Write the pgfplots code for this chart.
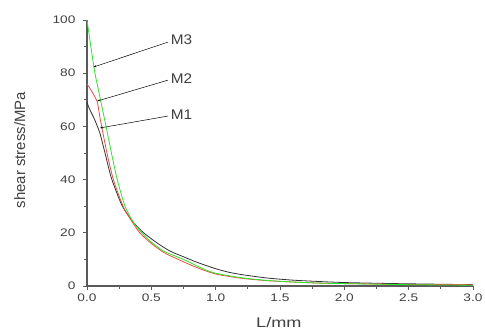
\documentclass[border=0pt]{standalone}
\usepackage{fontspec}
\setmainfont{Liberation Sans}
\newfontfamily\tickfont{Liberation Sans}[FakeStretch=1.25]
\newfontfamily\xlabfont{Liberation Sans}[FakeStretch=1.3]
\newfontfamily\mfont{Liberation Sans}[FakeStretch=1.1]
\usepackage{pgfplots}
\pgfplotsset{compat=1.18}
\usetikzlibrary{arrows.meta}
\definecolor{mgreen}{RGB}{40,230,40}
\definecolor{mred}{RGB}{245,70,70}
\definecolor{mblack}{RGB}{50,50,50}
\definecolor{axgray}{RGB}{90,90,90}
\begin{document}
\begin{tikzpicture}
\useasboundingbox (-87bp,-46bp) rectangle (398bp,286bp);
\begin{axis}[
  at={(0,0)}, anchor=south west,
  scale only axis, width=386bp, height=266bp,
  xmin=0, xmax=3, ymin=0, ymax=100,
  axis x line*=bottom, axis y line*=left,
  axis line style={axgray, line width=1.5pt},
  xtick={0,0.5,...,3}, ytick={0,20,...,100},
  minor x tick num=1, minor y tick num=1,
  tick align=outside,
  major tick length=4bp, minor tick length=3bp,
  tick style={axgray, line width=0.8pt},
  xticklabel style={/pgf/number format/.cd, fixed, fixed zerofill, precision=1},
  /pgf/number format/assume math mode=true,
  tick label style={font=\tickfont\fontsize{11}{13}\selectfont, text=black!75},
  yticklabel style={xshift=-4bp},
  xlabel={L/mm}, ylabel={shear stress/MPa},
  xlabel style={font=\xlabfont\fontsize{14}{16}\selectfont, text=black!75, at={(axis description cs:0.497,-0.139)}, anchor=center},
  ylabel style={font=\fontsize{15}{17}\selectfont, text=black!75, at={(axis description cs:-0.174,0.511)}, anchor=center, rotate=0},
  clip=false,
]
\addplot[mblack, line width=0.8pt, smooth, tension=0.4] coordinates {
(0,69) (0.02,66.5) (0.04,64.5) (0.06,62.5) (0.1,57.5) (0.14,50) (0.19,40.5) (0.27,30.5) (0.35,24.5) (0.44,20) (0.55,16) (0.65,13) (0.75,11) (0.85,9) (1.0,6.5) (1.1,5.2) (1.2,4.3) (1.4,3.0) (1.6,2.2) (1.8,1.7) (2.0,1.3) (2.4,0.9) (3.0,0.5)};
\addplot[mred, line width=0.8pt, smooth, tension=0.4] coordinates {
(0,76) (0.02,74.5) (0.078,69.5) (0.1,63.5) (0.155,50) (0.205,40) (0.28,30) (0.34,25) (0.41,20) (0.5,16) (0.6,12.5) (0.71,10) (0.85,7) (1.0,4.5) (1.2,2.9) (1.4,2.0) (1.6,1.5) (1.8,1.1) (2.0,0.9) (2.5,0.6) (3.0,0.5)};
\addplot[mgreen, line width=0.8pt, smooth, tension=0.4] coordinates {
(0,100) (0.03,90) (0.062,80) (0.105,70) (0.148,60) (0.19,50) (0.235,40) (0.295,30) (0.36,24) (0.425,20) (0.5,16.5) (0.6,13) (0.75,10) (0.9,6.5) (1.0,4.8) (1.2,3.1) (1.4,2.1) (1.6,1.5) (1.8,1.1) (2.0,0.9) (2.5,0.5) (3.0,0.3)};
\draw[black, line width=0.5pt, -{Stealth[length=3bp,width=2bp]}] (axis cs:0.63,91.7) -- (axis cs:0.05,82.3);
\draw[black, line width=0.5pt, -{Stealth[length=3bp,width=2bp]}] (axis cs:0.63,77.4) -- (axis cs:0.078,69.5);
\draw[black, line width=0.5pt, -{Stealth[length=3bp,width=2bp]}] (axis cs:0.63,63.9) -- (axis cs:0.10,59.4);
\node[anchor=west, font=\mfont\fontsize{14}{16}\selectfont, text=black!75, inner sep=0pt] at (axis cs:0.65,92.5) {M3};
\node[anchor=west, font=\mfont\fontsize{14}{16}\selectfont, text=black!75, inner sep=0pt] at (axis cs:0.65,78) {M2};
\node[anchor=west, font=\mfont\fontsize{14}{16}\selectfont, text=black!75, inner sep=0pt] at (axis cs:0.65,64.4) {M1};
\end{axis}
\end{tikzpicture}
\end{document}
